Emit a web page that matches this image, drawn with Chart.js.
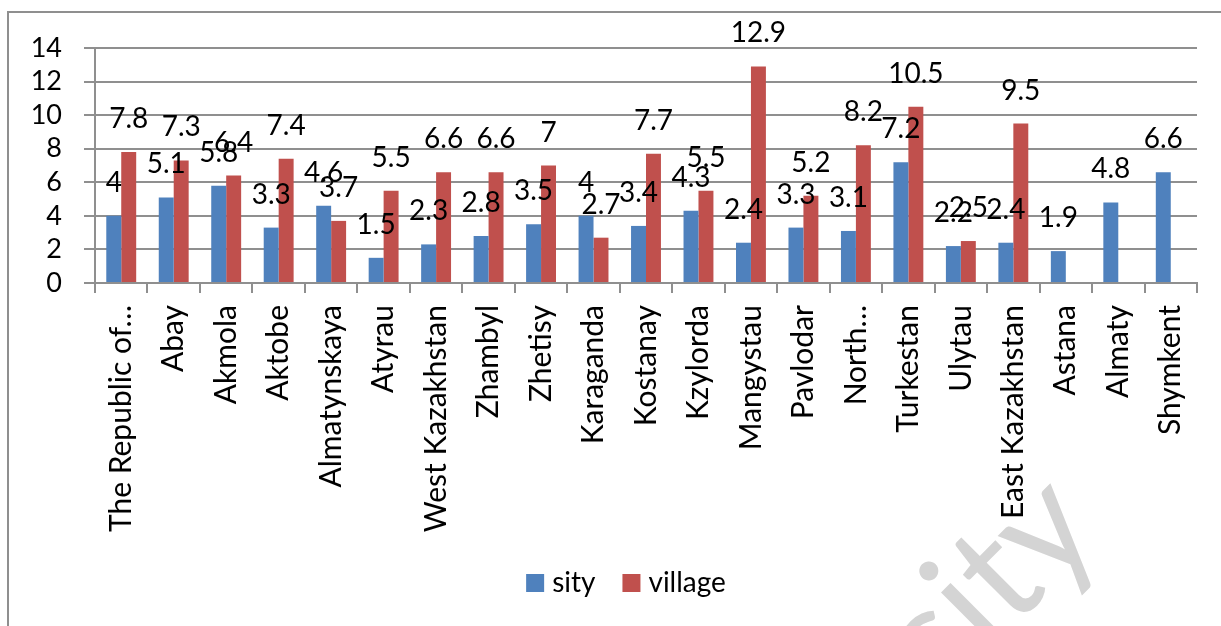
<!DOCTYPE html>
<html>
<head>
<meta charset="utf-8">
<script src="https://cdn.jsdelivr.net/npm/chart.js@4.4.0/dist/chart.umd.min.js"></script>
<style>
  body { margin: 0; background: #fff; }
  #wrap { width: 1221px; height: 626px; position: relative; }
</style>
</head>
<body>
<div id="wrap"><canvas id="chartRegions"></canvas></div>
<script>
  const regions = ["The Republic of…", "Abay", "Akmola", "Aktobe", "Almatynskaya", "Atyrau",
    "West Kazakhstan", "Zhambyl", "Zhetisy", "Karaganda", "Kostanay", "Kzylorda", "Mangystau",
    "Pavlodar", "North…", "Turkestan", "Ulytau", "East Kazakhstan", "Astana", "Almaty", "Shymkent"];
  const sity = [4, 5.1, 5.8, 3.3, 4.6, 1.5, 2.3, 2.8, 3.5, 4, 3.4, 4.3, 2.4, 3.3, 3.1, 7.2, 2.2, 2.4, 1.9, 4.8, 6.6];
  const village = [7.8, 7.3, 6.4, 7.4, 3.7, 5.5, 6.6, 6.6, 7, 2.7, 7.7, 5.5, 12.9, 5.2, 8.2, 10.5, 2.5, 9.5, null, null, null];
  const yTicks = [0, 2, 4, 6, 8, 10, 12, 14];

  const fontName = "Lato, 'Open Sans', sans-serif";
  const gridGray = "#8f8f8f";

  // рамка и водяной знак
  const framePlugin = {
    id: "frame",
    beforeDraw(chart) {
      const ctx = chart.ctx;
      ctx.save();
      ctx.fillStyle = "#fff";
      ctx.fillRect(0, 0, chart.width, chart.height);
      ctx.translate(1105, 536);
      ctx.rotate(-Math.PI / 4);
      ctx.font = "150px " + fontName;
      ctx.fillStyle = "#d4d4d4";
      ctx.textAlign = "right";
      ctx.textBaseline = "alphabetic";
      ctx.fillText("University", 0, 0);
      ctx.restore();

      ctx.save();
      ctx.strokeStyle = gridGray;
      ctx.lineWidth = 2;
      ctx.beginPath();
      ctx.moveTo(8, chart.height);
      ctx.lineTo(8, 12);
      ctx.lineTo(chart.width, 12);
      ctx.stroke();
      ctx.restore();
    }
  };

  // подписи над столбиками + легенда снизу
  const valueLabels = {
    id: "valueLabels",
    afterDatasetsDraw(chart) {
      const ctx = chart.ctx;
      ctx.save();
      ctx.font = "28px " + fontName;
      ctx.fillStyle = "#000";
      ctx.textAlign = "center";
      ctx.textBaseline = "middle";
      chart.data.datasets.forEach((ds, i) => {
        chart.getDatasetMeta(i).data.forEach((bar, j) => {
          const v = ds.data[j];
          if (v === null) return;
          ctx.fillText(String(v), bar.x, bar.y - 33);
        });
      });

      // легенда
      const box = 18, gap = 8, spacing = 27, cy = 583;
      const items = chart.data.datasets.map(ds => ({
        text: ds.label, color: ds.backgroundColor, w: ctx.measureText(ds.label).width
      }));
      let total = items.reduce((s, it) => s + box + gap + it.w, 0) + spacing * (items.length - 1);
      let x = 626 - total / 2;
      ctx.textAlign = "left";
      items.forEach(it => {
        ctx.fillStyle = it.color;
        ctx.fillRect(x, cy - box / 2, box, box);
        ctx.fillStyle = "#000";
        ctx.fillText(it.text, x + box + gap, cy);
        x += box + gap + it.w + spacing;
      });
      ctx.restore();
    }
  };

  new Chart(document.getElementById("chartRegions"), {
    type: "bar",
    data: {
      labels: regions,
      datasets: [
        { label: "sity", data: sity, backgroundColor: "#4F81BD", borderWidth: 0 },
        { label: "village", data: village, backgroundColor: "#C0504D", borderWidth: 0 }
      ]
    },
    options: {
      responsive: true,
      maintainAspectRatio: false,
      animation: false,
      categoryPercentage: 0.57,
      barPercentage: 1,
      layout: { padding: { left: 0, right: 24, top: 48, bottom: 0 } },
      plugins: {
        tooltip: { enabled: false },
        legend: { display: false }
      },
      scales: {
        x: {
          afterFit: (scale) => { scale.height = 343; },
          grid: {
            offset: true,
            drawOnChartArea: false,
            drawTicks: true,
            tickLength: 10,
            color: gridGray,
            lineWidth: 2
          },
          border: { color: gridGray, width: 2 },
          ticks: {
            autoSkip: false,
            maxRotation: 90,
            minRotation: 90,
            padding: 12,
            color: "#000",
            font: { family: fontName, size: 30 }
          }
        },
        y: {
          min: 0,
          max: 14,
          afterFit: (scale) => { scale.width = 95; },
          afterBuildTicks: (scale) => { scale.ticks = yTicks.map(v => ({ value: v })); },
          grid: { color: gridGray, lineWidth: 2, tickLength: 11 },
          border: { color: gridGray, width: 2 },
          ticks: {
            autoSkip: false,
            padding: 22,
            color: "#000",
            font: { family: fontName, size: 27 }
          }
        }
      }
    },
    plugins: [framePlugin, valueLabels]
  });
</script>
</body>
</html>
